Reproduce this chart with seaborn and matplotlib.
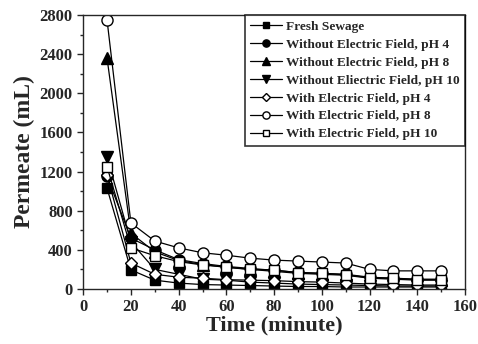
import numpy as np
import pandas as pd
import seaborn as sns
import matplotlib.pyplot as plt
from matplotlib.ticker import MultipleLocator

time = [10, 20, 30, 40, 50, 60, 70, 80, 90, 100, 110, 120, 130, 140, 150]

fresh = [1030, 195, 90, 60, 45, 40, 35, 30, 25, 25, 20, 20, 20, 20, 20]
wo_ph4 = [1150, 520, 400, 300, 260, 230, 210, 190, 170, 160, 150, 120, 110, 100, 100]
wo_ph8 = [2360, 570, 380, 290, 250, 220, 200, 180, 160, 150, 140, 110, 100, 90, 90]
wo_ph10 = [1350, 480, 200, 150, 100, 90, 70, 60, 50, 45, 40, 35, 30, 30, 30]
w_ph4 = [1165, 265, 150, 120, 110, 95, 90, 85, 75, 70, 60, 50, 45, 40, 40]
w_ph8 = [2750, 675, 490, 420, 370, 345, 315, 295, 285, 275, 265, 200, 185, 185, 185]
w_ph10 = [1250, 420, 340, 280, 245, 225, 200, 195, 165, 160, 145, 115, 110, 95, 95]

labels = ["Fresh Sewage",
          "Without Electric Field, pH 4",
          "Without Electric Field, pH 8",
          "Without Eliectric Field, pH 10",
          "With Electric Field, pH 4",
          "With Electric Field, pH 8",
          "With Electric Field, pH 10"]
series = [fresh, wo_ph4, wo_ph8, wo_ph10, w_ph4, w_ph8, w_ph10]
markers = ["s", "o", "^", "v", "D", "o", "s"]
filled = [True, True, True, True, False, False, False]
sizes = [7, 8, 8.5, 8.5, 6.6, 8, 7]

sns.set_style("ticks")
plt.rcParams['font.family'] = ['Liberation Serif', 'DejaVu Serif']
plt.rcParams['font.weight'] = 'bold'

fig = plt.figure(figsize=(4.78, 3.44), dpi=100)
ax = fig.add_axes([0.174, 0.16, 0.799, 0.796])

for lab, vals, m, f, ms in zip(labels, series, markers, filled, sizes):
    df = pd.DataFrame({"t": time, "v": vals})
    sns.lineplot(data=df, x="t", y="v", ax=ax, color="black", lw=0.9,
                 marker=m, markersize=ms,
                 markerfacecolor="black" if f else "white",
                 markeredgecolor="black", markeredgewidth=1.0, label=lab)

ax.set_xlim(0, 160)
ax.set_ylim(0, 2800)
ax.xaxis.set_major_locator(MultipleLocator(20))
ax.xaxis.set_minor_locator(MultipleLocator(10))
ax.yaxis.set_major_locator(MultipleLocator(400))
ax.yaxis.set_minor_locator(MultipleLocator(200))
ax.tick_params(which="major", direction="out", length=4, width=1, labelsize=12)
ax.tick_params(which="minor", direction="out", length=2.5, width=1)
for lb in ax.get_xticklabels() + ax.get_yticklabels():
    lb.set_fontweight("bold")
for s in ax.spines.values():
    s.set_linewidth(1.0)
    s.set_visible(True)

ax.set_xlabel("Time (minute)", fontsize=16, fontweight="bold", labelpad=0)
ax.set_ylabel("Permeate (mL)", fontsize=17, fontweight="bold", labelpad=3)

leg = ax.legend(loc="upper right", fontsize=9.6, frameon=True, fancybox=False,
                edgecolor="black", handlelength=2.4, labelspacing=0.42,
                borderpad=0.4, handletextpad=0.3, borderaxespad=0,
                markerscale=0.65)
leg.get_frame().set_linewidth(1.2)
for t in leg.get_texts():
    t.set_fontweight("bold")

fig.savefig("out.png", dpi=100)
